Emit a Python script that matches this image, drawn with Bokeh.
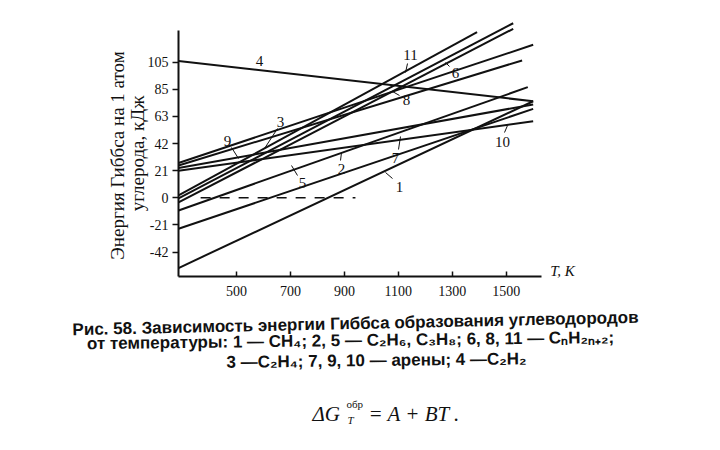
import math
from bokeh.plotting import figure
from bokeh.models import Range1d, Label, ColumnDataSource, FixedTicker
from bokeh.embed import file_html
from bokeh.resources import INLINE

# ---------------- data ----------------
curve_ids = ["1", "2", "3", "4", "5", "6", "7", "8", "9", "10", "11"]
T_start = [285, 285, 285, 285, 285, 285, 285, 285, 285, 285, 285]
G_start = [-54.4, -9.8, 27.0, 106.0, -24.0, -0.5, 23.0, -3.6, 25.0, 21.0, 1.8]
T_end = [1600, 1580, 1600, 1600, 1600, 1526, 1600, 1526, 1559, 1600, 1392]
G_end = [74.8, 85.7, 118.5, 74.8, 68.9, 135.2, 72.3, 130.9, 106.4, 59.3, 128.3]

zero_T = [367, 941]
zero_G = [0, 0]

x_ticks = [500, 700, 900, 1100, 1300, 1500]
y_ticks = [-42, -21, 0, 21, 42, 63, 84, 105]
y_tick_labels = ["-42", "-21", "0", "21", "42", "63", "85", "105"]

y_title = ["Энергия Гиббса на 1 атом", "углерода, кДж"]
x_title = "T, K"
caption = [
    "Рис. 58. Зависимость энергии Гиббса образования углеводородов",
    "от температуры: 1 — CH₄; 2, 5 — C₂H₆, C₃H₈; 6, 8, 11 — CₙH₂ₙ₊₂;",
    "3 —C₂H₄; 7, 9, 10 — арены; 4 —C₂H₂",
]

# ---------------- page-pixel helpers for placing annotations ----------------
X500, PX_PER_K = 236.0, 0.2697
Y0, PX_PER_KJ = 197.3, 1.291


def T_at(px):
    return 500 + (px - X500) / PX_PER_K


def G_at(py):
    return (Y0 - py) / PX_PER_KJ


W, H = 704, 434
AXIS_X, AXIS_Y = 178, 276  # page px of the y axis and x axis

p = figure(width=W, height=H, output_backend="svg", toolbar_location=None,
           x_range=Range1d(T_at(0), T_at(W)),
           y_range=Range1d(G_at(H), G_at(0)),
           min_border_left=0, min_border_right=0,
           min_border_top=0, min_border_bottom=0)
p.outline_line_color = None
p.xgrid.visible = False
p.ygrid.visible = False
p.background_fill_color = "white"
p.border_fill_color = "white"

ink = "#111111"
serif = "Liberation Serif"

# axes (placed at fixed data locations)
p.xaxis.fixed_location = G_at(AXIS_Y)
p.yaxis.fixed_location = T_at(AXIS_X)

p.xaxis.ticker = FixedTicker(ticks=x_ticks)
p.xaxis.bounds = (T_at(AXIS_X), T_at(541))
p.xaxis.major_tick_in = 5
p.xaxis.major_tick_out = 0
p.xaxis.minor_tick_line_color = None
p.xaxis.axis_line_width = 2
p.xaxis.axis_line_color = ink
p.xaxis.major_tick_line_color = ink
p.xaxis.major_tick_line_width = 1.5
p.xaxis.major_label_text_font = serif
p.xaxis.major_label_text_font_size = "14px"
p.xaxis.major_label_text_color = ink
p.xaxis.major_label_standoff = 9

p.yaxis.ticker = FixedTicker(ticks=y_ticks)
p.yaxis.major_label_overrides = {t: l for t, l in zip(y_ticks, y_tick_labels)}
p.yaxis.bounds = (G_at(AXIS_Y), G_at(30))
p.yaxis.major_tick_in = 0
p.yaxis.major_tick_out = 6
p.yaxis.minor_tick_line_color = None
p.yaxis.axis_line_width = 2
p.yaxis.axis_line_color = ink
p.yaxis.major_tick_line_color = ink
p.yaxis.major_tick_line_width = 1.5
p.yaxis.major_label_text_font = serif
p.yaxis.major_label_text_font_size = "14px"
p.yaxis.major_label_text_color = ink
p.yaxis.major_label_standoff = 4

# curves
src = ColumnDataSource(dict(x0=T_start, y0=G_start, x1=T_end, y1=G_end, id=curve_ids))
p.segment(x0="x0", y0="y0", x1="x1", y1="y1", source=src,
          line_color=ink, line_width=2)

# zero line
p.line(zero_T, zero_G, line_color=ink, line_width=1.5, line_dash="10 9")

# curve numbers and leaders (page px positions)
num_pos = {
    "4": (259, 60), "11": (410, 54), "6": (455, 72), "8": (406, 99),
    "3": (280, 121), "9": (227, 140), "5": (302, 182), "2": (341, 168),
    "7": (395, 157), "1": (399, 186), "10": (502, 141),
}
leaders = [
    ((407, 63), (405, 72)), ((449, 66), (445, 62)), ((399, 95), (392, 91)),
    ((277, 128), (264, 148)), ((231, 147), (238, 158)), ((297, 175), (291, 165)),
    ((340, 160), (341, 152)), ((398, 149), (400, 136)), ((392, 178), (385, 172)),
    ((504, 132), (507, 125)),
]
for cid in curve_ids:
    px, py = num_pos[cid]
    p.add_layout(Label(x=T_at(px), y=G_at(py), text=cid, text_align="center",
                       text_baseline="middle", text_font=serif,
                       text_font_size="15px", text_color=ink))
p.segment(x0=[T_at(a[0]) for a, b in leaders], y0=[G_at(a[1]) for a, b in leaders],
          x1=[T_at(b[0]) for a, b in leaders], y1=[G_at(b[1]) for a, b in leaders],
          line_color=ink, line_width=1)

# axis titles
p.add_layout(Label(x=T_at(117), y=G_at(155), text=y_title[0], angle=math.pi / 2,
                   text_align="center", text_baseline="middle", text_font=serif,
                   text_font_size="19px", text_color=ink))
p.add_layout(Label(x=T_at(137), y=G_at(153), text=y_title[1], angle=math.pi / 2,
                   text_align="center", text_baseline="middle", text_font=serif,
                   text_font_size="19px", text_color=ink))
p.add_layout(Label(x=T_at(562), y=G_at(270), text=x_title, text_align="center",
                   text_baseline="middle", text_font=serif, text_font_style="italic",
                   text_font_size="15px", text_color=ink))

# caption
cap_pos = [(355, 323, 0.022), (350, 340, 0.012), (376, 360, 0.012)]
for txt, (cx, cy, ang) in zip(caption, cap_pos):
    p.add_layout(Label(x=T_at(cx), y=G_at(cy), text=txt, angle=ang,
                       text_align="center", text_baseline="middle",
                       text_font="Liberation Sans", text_font_style="bold",
                       text_font_size="17px", text_color=ink))

# formula  ΔG_T^обр = A + BT.
fy = 413
p.add_layout(Label(x=T_at(312), y=G_at(fy), text="ΔG", text_align="left",
                   text_baseline="middle", text_font=serif, text_font_style="italic",
                   text_font_size="21px", text_color=ink))
p.add_layout(Label(x=T_at(346), y=G_at(fy - 10), text="обр", text_align="left",
                   text_baseline="middle", text_font=serif,
                   text_font_size="11px", text_color=ink))
p.add_layout(Label(x=T_at(347), y=G_at(fy + 6), text="T", text_align="left",
                   text_baseline="middle", text_font=serif, text_font_style="italic",
                   text_font_size="11px", text_color=ink))
p.add_layout(Label(x=T_at(368), y=G_at(fy), text="= A + BT .", text_align="left",
                   text_baseline="middle", text_font=serif, text_font_style="italic",
                   text_font_size="21px", text_color=ink))

open("out.html", "w").write(file_html(p, INLINE))
